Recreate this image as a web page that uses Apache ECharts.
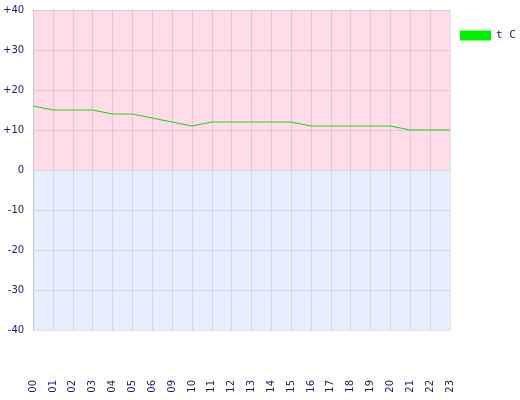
<!DOCTYPE html>
<html>
<head>
<meta charset="utf-8">
<script src="https://cdn.jsdelivr.net/npm/echarts@6/dist/echarts.min.js"></script>
<style>html,body{margin:0;padding:0;background:#fff;}#c{width:520px;height:400px;}</style>
</head>
<body>
<div id="c"></div>
<script>
var hours = ['00','01','02','03','04','05','06','09','10','11','12','13','14','15','16','17','18','19','20','21','22','23'];
var temps = [16,15,15,15,14,14,13,12,11,12,12,12,12,12,11,11,11,11,11,10,10,10];
var seriesName = 't C';
var yTicks = [-40,-30,-20,-10,0,10,20,30,40];

var chart = echarts.init(document.getElementById('c'));
var labelColor = '#1a1a66';
chart.setOption({
  animation: false,
  backgroundColor: '#ffffff',
  grid: {left: 31, right: 70, top: 10, bottom: 70, containLabel: false},
  legend: {
    left: 455, top: 25, orient: 'vertical',
    itemWidth: 31, itemHeight: 10, icon: 'rect',
    data: [{name: seriesName, itemStyle: {color: '#00ee00'}}],
    textStyle: {fontFamily: 'DejaVu Sans Mono', fontSize: 11, color: labelColor}
  },
  xAxis: {
    type: 'category',
    data: hours,
    boundaryGap: false,
    z: 3,
    axisLine: {show: true, lineStyle: {color: '#d4d8e4', width: 1}},
    axisTick: {show: false},
    axisLabel: {rotate: 90, margin: 50, fontFamily: 'DejaVu Sans', fontSize: 10, color: labelColor},
    splitLine: {show: true, lineStyle: {color: 'rgba(90,90,120,0.17)', width: 1}}
  },
  yAxis: {
    type: 'value',
    min: yTicks[0], max: yTicks[yTicks.length - 1], interval: 10,
    axisLine: {show: true, lineStyle: {color: '#dde0ea', width: 1}},
    axisTick: {show: false},
    axisLabel: {
      margin: 9, fontFamily: 'DejaVu Sans', fontSize: 10, color: labelColor,
      formatter: function (v) { return v > 0 ? '+' + v : String(v); }
    },
    splitLine: {show: true, lineStyle: {color: 'rgba(90,90,120,0.17)', width: 1}},
    splitArea: {show: true, areaStyle: {color: ['#e6eeff','#e6eeff','#e6eeff','#e6eeff','#ffdde8','#ffdde8','#ffdde8','#ffdde8']}}
  },
  series: [{
    name: seriesName,
    type: 'line',
    data: temps,
    showSymbol: false,
    symbol: 'none',
    z: 5,
    itemStyle: {color: '#22cc22'},
    lineStyle: {color: '#22cc22', width: 1}
  }]
});
</script>
</body>
</html>
